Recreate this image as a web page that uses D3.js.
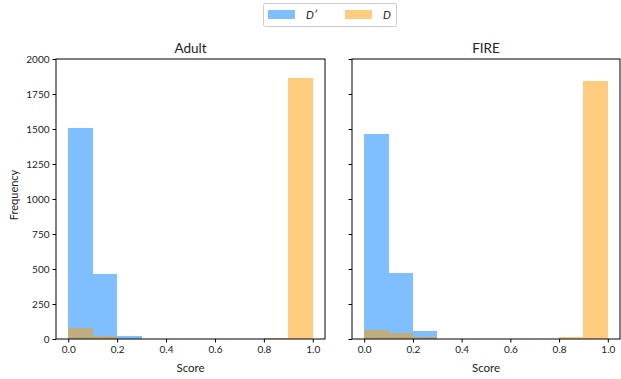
<!DOCTYPE html>
<html>
<head>
<meta charset="utf-8">
<script src="https://cdn.jsdelivr.net/npm/d3@7"></script>
<style>
  body { margin: 0; background: #fff; }
  svg text { font-family: Lato, "Open Sans", sans-serif; fill: #222; }
</style>
</head>
<body>
<svg id="chart" width="621" height="379"></svg>
<script>
// Histogram bins (Score, width 0.1)
const binEdges = [0, 0.1, 0.2, 0.3, 0.4, 0.5, 0.6, 0.7, 0.8, 0.9, 1.0];
const panels = ["Adult", "FIRE"];
const adultDPrime = [1505, 464, 21, 0, 0, 0, 0, 0, 0, 0];
const adultD      = [81, 24, 0, 0, 0, 0, 0, 0, 8, 1864];
const fireDPrime  = [1464, 471, 59, 0, 0, 0, 0, 0, 0, 0];
const fireD       = [64, 45, 14, 0, 0, 0, 0, 0, 16, 1843];
const yTicks = [0, 250, 500, 750, 1000, 1250, 1500, 1750, 2000];
const xTicks = [0, 0.2, 0.4, 0.6, 0.8, 1.0];
const seriesNames = ["D\u2032", "D"];
const seriesColors = ["rgba(0,127,255,0.5)", "rgba(255,153,0,0.5)"];

const svg = d3.select("#chart");
const plotTop = 59, plotBottom = 339;
const panelX = [[56, 325], [352, 620]];
const data = [[adultDPrime, adultD], [fireDPrime, fireD]];

const y = d3.scaleLinear().domain([0, 2000]).range([plotBottom, plotTop]);

panels.forEach((name, p) => {
  const x = d3.scaleLinear().domain([-0.05, 1.05]).range(panelX[p]);
  const g = svg.append("g");

  data[p].forEach((vals, s) => {
    g.append("g").attr("shape-rendering", "crispEdges")
      .selectAll("rect")
      .data(vals.map((v, i) => ({ x0: binEdges[i], x1: binEdges[i + 1], v })))
      .enter().append("rect")
      .attr("x", d => x(d.x0))
      .attr("width", d => x(d.x1) - x(d.x0))
      .attr("y", d => y(d.v))
      .attr("height", d => plotBottom - y(d.v))
      .attr("fill", seriesColors[s]);
  });

  // frame
  g.append("rect")
    .attr("x", panelX[p][0]).attr("y", plotTop)
    .attr("width", panelX[p][1] - panelX[p][0]).attr("height", plotBottom - plotTop)
    .attr("fill", "none").attr("stroke", "#000").attr("stroke-width", 1);

  const xa = g.append("g").attr("transform", `translate(0,${plotBottom})`)
    .call(d3.axisBottom(x).tickValues(xTicks).tickFormat(d3.format(".1f")).tickSize(3.5).tickPadding(3));
  xa.select(".domain").remove();
  xa.selectAll("text").attr("font-size", 10);

  const ya = g.append("g").attr("transform", `translate(${panelX[p][0]},0)`)
    .call(d3.axisLeft(y).tickValues(yTicks).tickSize(3.5).tickPadding(3)
      .tickFormat(p === 0 ? d3.format("d") : () => ""));
  ya.select(".domain").remove();
  ya.selectAll("text").attr("font-size", 10);

  g.append("text")
    .attr("x", (panelX[p][0] + panelX[p][1]) / 2).attr("y", 53)
    .attr("text-anchor", "middle").attr("font-size", 13.5)
    .text(name);

  g.append("text")
    .attr("x", (panelX[p][0] + panelX[p][1]) / 2).attr("y", 372)
    .attr("text-anchor", "middle").attr("font-size", 11.5)
    .text("Score");
});

svg.append("text")
  .attr("transform", "translate(18,195) rotate(-90)")
  .attr("text-anchor", "middle").attr("font-size", 11)
  .text("Frequency");

// legend
const lg = svg.append("g");
lg.append("rect").attr("x", 263.5).attr("y", 3.5).attr("width", 133).attr("height", 23)
  .attr("rx", 2).attr("fill", "#fff").attr("stroke", "#ccc");
seriesNames.forEach((n, i) => {
  const lx = 268 + i * 77;
  lg.append("rect").attr("x", lx).attr("y", 10).attr("width", 27).attr("height", 9)
    .attr("fill", seriesColors[i]);
  lg.append("text").attr("x", lx + 38).attr("y", 19)
    .attr("font-size", 11).attr("font-style", "italic")
    .attr("font-family", "'DejaVu Sans', sans-serif")
    .text(n);
});
</script>
</body>
</html>
